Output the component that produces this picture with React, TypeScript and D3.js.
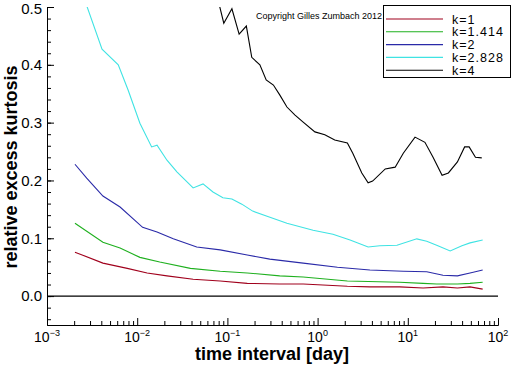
import { useEffect, useRef } from "react";
import * as d3 from "d3";

// log10 of the time interval in days, and relative excess kurtosis
const kLabels = ["k=1", "k=1.414", "k=2", "k=2.828", "k=4"];
const kColors = ["#a0001c", "#1fb01f", "#2a2aa8", "#3fe3e3", "#000000"];

const k1X = [-2.69, -2.38, -2.11, -1.89, -1.67, -1.38, -1.08, -0.78, -0.42, -0.16, 0.33, 0.58, 0.91, 1.17, 1.39, 1.55, 1.69, 1.83];
const k1Y = [0.076, 0.057, 0.048, 0.04, 0.035, 0.029, 0.026, 0.022, 0.021, 0.021, 0.017, 0.016, 0.016, 0.014, 0.016, 0.014, 0.016, 0.012];

const k2X = [-2.69, -2.38, -2.19, -1.97, -1.75, -1.41, -1.08, -0.78, -0.42, -0.16, 0.33, 0.91, 1.17, 1.32, 1.55, 1.69, 1.83];
const k2Y = [0.126, 0.093, 0.083, 0.067, 0.059, 0.048, 0.043, 0.04, 0.035, 0.033, 0.026, 0.024, 0.022, 0.021, 0.021, 0.022, 0.024];

const k3X = [-2.69, -2.56, -2.38, -2.19, -1.94, -1.78, -1.6, -1.34, -1.08, -0.78, -0.53, -0.16, 0.22, 0.58, 0.95, 1.21, 1.39, 1.55, 1.69, 1.83];
const k3Y = [0.228, 0.204, 0.173, 0.154, 0.119, 0.111, 0.099, 0.085, 0.08, 0.071, 0.064, 0.057, 0.05, 0.045, 0.043, 0.042, 0.036, 0.035, 0.04, 0.045];

const k4X = [-2.69, -2.39, -2.21, -2.1, -1.97, -1.84, -1.78, -1.67, -1.56, -1.38, -1.27, -1.16, -1.05, -0.95, -0.84, -0.72, -0.56, -0.34, -0.05, 0.17, 0.36, 0.56, 0.69, 0.88, 1.1, 1.21, 1.32, 1.47, 1.6, 1.69, 1.83];
const k4Y = [0.56, 0.427, 0.4, 0.356, 0.299, 0.258, 0.261, 0.235, 0.215, 0.187, 0.194, 0.18, 0.17, 0.168, 0.159, 0.147, 0.138, 0.126, 0.114, 0.107, 0.097, 0.085, 0.087, 0.088, 0.099, 0.095, 0.088, 0.078, 0.087, 0.092, 0.097];

const k5X = [-1.13, -1.04, -0.95, -0.87, -0.79, -0.73, -0.64, -0.57, -0.49, -0.42, -0.34, -0.25, -0.16, -0.03, 0.08, 0.19, 0.33, 0.39, 0.49, 0.56, 0.61, 0.75, 0.86, 0.95, 1.08, 1.19, 1.28, 1.38, 1.45, 1.55, 1.63, 1.68, 1.75, 1.82];
const k5Y = [0.529, 0.472, 0.497, 0.453, 0.467, 0.413, 0.4, 0.374, 0.365, 0.348, 0.327, 0.313, 0.301, 0.284, 0.279, 0.27, 0.265, 0.247, 0.213, 0.196, 0.199, 0.22, 0.223, 0.247, 0.275, 0.266, 0.24, 0.209, 0.213, 0.232, 0.258, 0.258, 0.24, 0.239];

const seriesX = [k1X, k2X, k3X, k4X, k5X];
const seriesY = [k1Y, k2Y, k3Y, k4Y, k5Y];

const xDecades = [-3, -2, -1, 0, 1, 2];
const yMajor = [0, 0.1, 0.2, 0.3, 0.4, 0.5];

const App = () => {
  const svgRef = useRef<SVGSVGElement | null>(null);

  useEffect(() => {
    if (!svgRef.current) return;
    const svg = d3.select(svgRef.current);
    svg.selectAll("*").remove();

    const left = 47,
      right = 498,
      top = 7,
      bottom = 325;
    const font = "'Liberation Sans', Arial, sans-serif";

    const x = d3.scaleLog().domain([1e-3, 1e2]).range([left, right]);
    const y = d3.scaleLinear().domain([-0.05, 0.5]).range([bottom, top]);

    svg
      .append("clipPath")
      .attr("id", "plot")
      .append("rect")
      .attr("x", left)
      .attr("y", top)
      .attr("width", right - left)
      .attr("height", bottom - top);

    // zero line
    svg
      .append("line")
      .attr("x1", left)
      .attr("x2", right)
      .attr("y1", y(0))
      .attr("y2", y(0))
      .attr("stroke", "#000")
      .attr("stroke-width", 1.4);

    // y axis: minor + major ticks pointing inside
    const yMinor = d3.range(-0.04, 0.5, 0.02).map((v) => +v.toFixed(2));
    svg
      .append("g")
      .attr("transform", `translate(${left},0)`)
      .call(d3.axisLeft(y).tickValues(yMinor).tickSize(-4).tickSizeOuter(0).tickFormat(() => ""))
      .call((g) => g.selectAll("path,line").attr("stroke", "#000"));
    svg
      .append("g")
      .attr("transform", `translate(${left},0)`)
      .call(d3.axisLeft(y).tickValues(yMajor).tickSize(-7).tickSizeOuter(0).tickPadding(5).tickFormat(d3.format(".1f")))
      .call((g) => g.selectAll("path,line").attr("stroke", "#000"))
      .selectAll("text")
      .attr("fill", "#000")
      .attr("y", (d) => ((d as number) === 0.5 ? 2 : 0))
      .style("font-size", "15px")
      .style("font-family", font);

    // x axis
    const xMinor: number[] = [];
    xDecades.slice(0, -1).forEach((e) => {
      for (let m = 2; m <= 9; m++) xMinor.push(m * Math.pow(10, e));
    });
    svg
      .append("g")
      .attr("transform", `translate(0,${bottom})`)
      .call(d3.axisBottom(x).tickValues(xMinor).tickSize(-4).tickSizeOuter(0).tickFormat(() => ""))
      .call((g) => g.selectAll("path,line").attr("stroke", "#000"));
    svg
      .append("g")
      .attr("transform", `translate(0,${bottom})`)
      .call(
        d3
          .axisBottom(x)
          .tickValues(xDecades.map((e) => Math.pow(10, e)))
          .tickSize(-7)
          .tickSizeOuter(0)
          .tickFormat(() => "")
      )
      .call((g) => g.selectAll("path,line").attr("stroke", "#000"));

    const xl = svg
      .append("g")
      .selectAll("text")
      .data(xDecades)
      .enter()
      .append("text")
      .attr("x", (e) => x(Math.pow(10, e)))
      .attr("y", 342)
      .attr("text-anchor", "middle")
      .style("font-family", font)
      .style("font-size", "14px");
    xl.append("tspan").text("10");
    xl.append("tspan")
      .attr("dy", -6)
      .style("font-size", "9px")
      .text((e) => (e < 0 ? "\u2212" + -e : String(e)));

    // axis titles
    svg
      .append("text")
      .attr("x", 272)
      .attr("y", 360)
      .attr("text-anchor", "middle")
      .style("font-family", font)
      .style("font-size", "18px")
      .style("font-weight", "bold")
      .text("time interval [day]");
    svg
      .append("text")
      .attr("transform", "translate(17,167) rotate(-90)")
      .attr("text-anchor", "middle")
      .style("font-family", font)
      .style("font-size", "18px")
      .style("font-weight", "bold")
      .text("relative excess kurtosis");

    // curves
    const line = d3
      .line<[number, number]>()
      .x((d) => x(Math.pow(10, d[0])))
      .y((d) => y(d[1]));
    const curves = svg.append("g").attr("clip-path", "url(#plot)");
    seriesX.forEach((xs, i) => {
      const pts = xs.map((v, j) => [v, seriesY[i][j]] as [number, number]);
      curves
        .append("path")
        .attr("d", line(pts))
        .attr("fill", "none")
        .attr("stroke", kColors[i])
        .attr("stroke-width", 1.1);
    });

    // copyright
    svg
      .append("text")
      .attr("x", 256)
      .attr("y", 19)
      .style("font-family", font)
      .style("font-size", "9px")
      .text("Copyright Gilles Zumbach 2012");

    // legend
    const lg = svg.append("g");
    lg.append("rect")
      .attr("x", 383.5)
      .attr("y", 5.5)
      .attr("width", 127)
      .attr("height", 72)
      .attr("fill", "#fff")
      .attr("stroke", "#000");
    const rows = lg
      .selectAll("g.row")
      .data(kLabels)
      .enter()
      .append("g")
      .attr("class", "row")
      .attr("transform", (_, i) => `translate(0,${19 + i * 12.8})`);
    rows
      .append("line")
      .attr("x1", 386)
      .attr("x2", 443)
      .attr("stroke", (_, i) => kColors[i])
      .attr("stroke-width", 1.1);
    rows
      .append("text")
      .attr("x", 452)
      .attr("y", 4.5)
      .style("font-family", font)
      .style("font-size", "12.5px")
      .style("letter-spacing", "1px")
      .text((d) => d);
  }, []);

  return (
    <svg
      ref={svgRef}
      width={512}
      height={366}
      style={{ position: "absolute", left: 0, top: 0, background: "#fff" }}
    ></svg>
  );
};

export default App;
